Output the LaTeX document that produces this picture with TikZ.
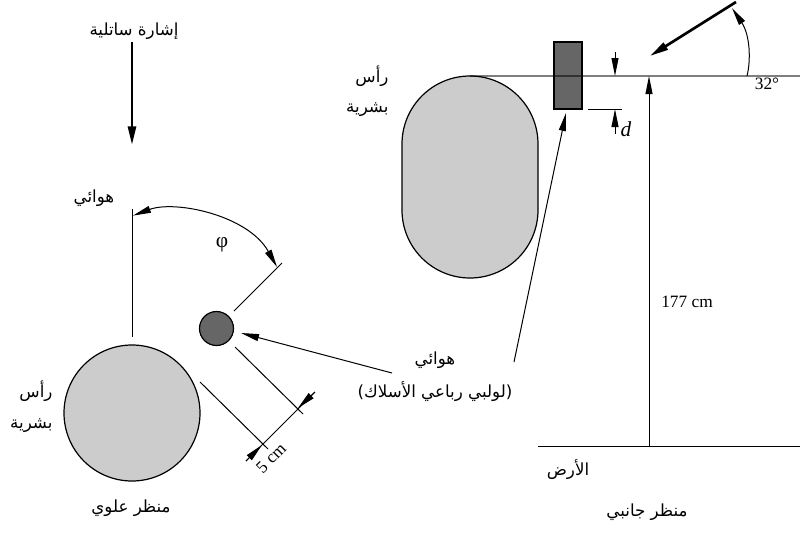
\documentclass[tikz,border=0pt]{standalone}
\usepackage{fontspec}
\setmainfont{Liberation Serif}
\newfontfamily\arabicfont[Script=Arabic]{DejaVu Sans}
\TeXXeTstate=1
\usetikzlibrary{arrows.meta}
\newcommand{\artext}[1]{{\arabicfont\fontsize{12.5}{14}\selectfont\beginR #1\endR}}
\definecolor{headgray}{RGB}{204,204,204}
\definecolor{coilgray}{RGB}{102,102,102}
\tikzset{every picture/.style={line width=0.75pt}}
\tikzset{
  thintip/.style={-{Triangle[length=13.5pt,width=5.2pt]}},
  twotip/.style={{Triangle[length=13.5pt,width=5.2pt]}-{Triangle[length=13.5pt,width=5.2pt]}},
  signal/.style={line width=2pt,-{Triangle[length=14pt,width=6pt]}},
  lab/.style={inner sep=0.75pt,font=\fontsize{13}{15}\selectfont},
  biglab/.style={inner sep=0.75pt,font=\fontsize{16}{18}\selectfont}
}

\begin{document}
\begin{tikzpicture}[x=0.75pt,y=0.75pt,yscale=-1,xscale=1]
        \useasboundingbox (0,0) rectangle (800,536);

        %Shape: Circle
        \node (head) [circle,draw,fill=headgray,line width=0.9pt,minimum size=102pt,inner sep=0pt] at (132,413) {};
        \node (coil) [circle,draw,fill=coilgray,line width=0.9pt,minimum size=25.5pt,inner sep=0pt] at (216.5,328.5) {};
        %Shape: Rounded capsule
        \draw [fill=headgray,line width=0.9pt] (402,144) arc (180:360:68) -- (538,210) arc (0:180:68) -- cycle ;
        %Shape: Rectangle
        \draw [fill=coilgray,line width=0.9pt] (554,42) rectangle (582,109) ;
        %Straight Lines
        \coordinate (horizonL) at (470,76);
        \coordinate (horizonR) at (800,76);
        \draw [line width=1.2pt,draw opacity=0.5] (horizonL) -- (horizonR) ;
        \coordinate (groundL) at (538,446);
        \coordinate (groundR) at (800,446);
        \draw (groundL) -- (groundR) ;

        %Straight Lines
        \coordinate (sigA) at (132,42);
        \coordinate (sigB) at (132,145);
        \draw [signal] (sigA) -- (sigB) ;
        \coordinate (sigC) at (736,2);
        \coordinate (sigD) at (650,56);
        \draw [signal] (sigC) -- (sigD) ;

        \coordinate (axisA) at (132,209);
        \coordinate (axisB) at (132,337);
        \draw (axisA) -- (axisB) ;
        \coordinate (axisC) at (282,263);
        \coordinate (axisD) at (234,311);
        \draw (axisC) -- (axisD) ;
        %Curve Lines
        \coordinate (phiA) at (277,267);
        \coordinate (phiB) at (133,215.6);
        \draw [twotip] (phiA) .. controls (248,215) and (175,200) .. (phiB) ;

        %Five cm lines
        \coordinate (extA) at (235,347);
        \coordinate (extB) at (303,414);
        \draw (extA) -- (extB) ;
        \coordinate (extC) at (200,382);
        \coordinate (extD) at (268,449);
        \draw (extC) -- (extD) ;
        \coordinate (dimA) at (315,392);
        \coordinate (dimB) at (246,461);
        \draw (dimA) -- (dimB) ;
        \coordinate (dimC) at (298,408);
        \coordinate (dimD) at (262,445);
        \draw [thintip] (dimA) -- (dimC) ;
        \draw [thintip] (dimB) -- (dimD) ;

        %Leaders
        \coordinate (leadA) at (392,373);
        \coordinate (leadB) at (241,333);
        \draw [thintip] (leadA) -- (leadB) ;
        \coordinate (leadC) at (514,362);
        \coordinate (leadD) at (566,113);
        \draw [thintip] (leadC) -- (leadD) ;

        %d lines
        \coordinate (dtickA) at (588,109);
        \coordinate (dtickB) at (622,109);
        \draw (dtickA) -- (dtickB) ;
        \coordinate (dA) at (615,52);
        \coordinate (dB) at (615,76);
        \coordinate (dC) at (615,134);
        \coordinate (dD) at (615,109);
        \draw [thintip] (dA) -- (dB) ;
        \draw [thintip] (dC) -- (dD) ;

        %Height arrow
        \coordinate (hA) at (649,446);
        \coordinate (hB) at (649,76);
        \draw [thintip] (hA) -- (hB) ;
        %Curve Lines
        \coordinate (angA) at (747,76);
        \coordinate (angB) at (732,8);
        \draw [thintip] (angA) .. controls (751,60) and (750,35) .. (angB) ;

        % Text Node
        \node (sigtext) [lab] at (134,31) {\artext{إشارة ساتلية}};
        % Text Node
        \node (anttext) [lab] at (94,198) {\artext{هوائي}};
        % Text Node
        \node (phitext) [biglab] at (222,245) {φ};
        % Text Node
        \node (headtextA) [lab,anchor=east] at (54,391) {\artext{رأس}};
        % Text Node
        \node (headtextB) [lab,anchor=east] at (54,426) {\artext{بشرية}};
        % Text Node
        \node (toptext) [lab] at (131,508) {\artext{منظر علوي}};
        % Text Node
        \node (fivetext) [lab,rotate=45] at (271,458) {5 cm};
        % Text Node
        \node (coiltextA) [lab] at (435,360) {\artext{هوائي}};
        % Text Node
        \node (coiltextB) [lab] at (435,392) {\artext{(لولبي رباعي الأسلاك)}};
        % Text Node
        \node (headtextC) [lab,anchor=east] at (390,76) {\artext{رأس}};
        % Text Node
        \node (headtextD) [lab,anchor=east] at (390,110) {\artext{بشرية}};
        % Text Node
        \node (dtext) [biglab] at (626,129) {\textit{d}};
        % Text Node
        \node (angtext) [lab] at (767,84) {32°};
        % Text Node
        \node (cmtext) [lab] at (687,302) {177 cm};
        % Text Node
        \node (groundtext) [lab] at (568,470) {\artext{الأرض}};
        % Text Node
        \node (sidetext) [lab] at (647,512) {\artext{منظر جانبي}};
\end{tikzpicture}
\end{document}
